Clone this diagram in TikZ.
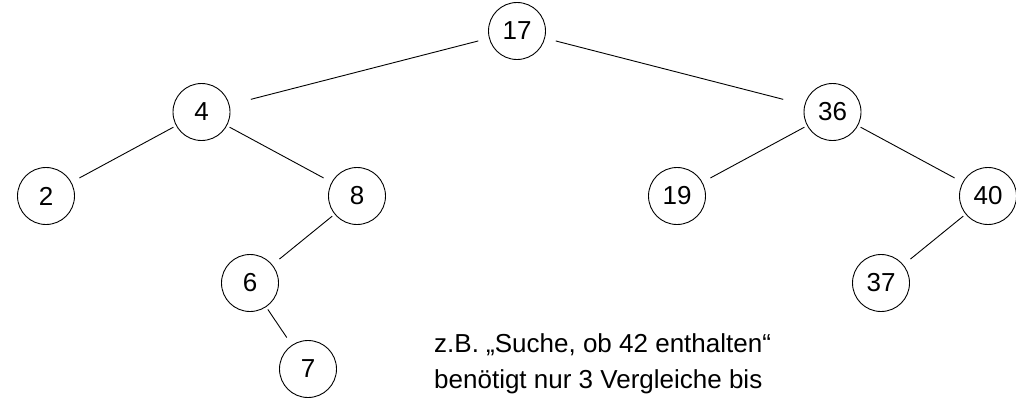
\documentclass[tikz,border=0pt]{standalone}
\usepackage{fontspec}
\setmainfont{Liberation Sans}
\usepackage{tikz}

\tikzset{
  key/.style={draw, circle, minimum width=57pt, minimum height=55pt, inner sep=0pt, line width=0.9pt, font=\fontsize{26}{30}\selectfont},
  branch/.style={draw, line width=0.9pt, shorten <=3pt, shorten >=9pt},
  remark/.style={anchor=base west, inner sep=0pt, font=\fontsize{26}{30}\selectfont}
}

\begin{document}
\begin{tikzpicture}[x=1pt, y=1pt, every child node/.style={key}, edge from parent/.style={branch},
  level 1/.style={sibling distance=631pt, level distance=81pt, edge from parent/.style={branch, shorten <=11pt, shorten >=22pt}},
  level 2/.style={sibling distance=311pt, level distance=84pt, edge from parent/.style={branch}},
  level 3/.style={sibling distance=214pt, level distance=87pt},
  level 4/.style={sibling distance=116pt, level distance=86pt}]
\useasboundingbox (0,0) rectangle (1016,-397);
\node[key] (k17) at (517,-31) {17}
  child {node (k4) {4}
    child {node (k2) {2}}
    child {node (k8) {8}
      child {node (k6) {6}
        child[missing]
        child {node (k7) {7}}
      }
      child[missing]
    }
  }
  child {node (k36) {36}
    child {node (k19) {19}}
    child {node (k40) {40}
      child {node (k37) {37}}
      child[missing]
    }
  };
\node[remark] (note1) at (434,-352) {z.B. „Suche, ob 42 enthalten“};
\node[remark] (note2) at (434,-388) {benötigt nur 3 Vergleiche bis};
\end{tikzpicture}
\end{document}
